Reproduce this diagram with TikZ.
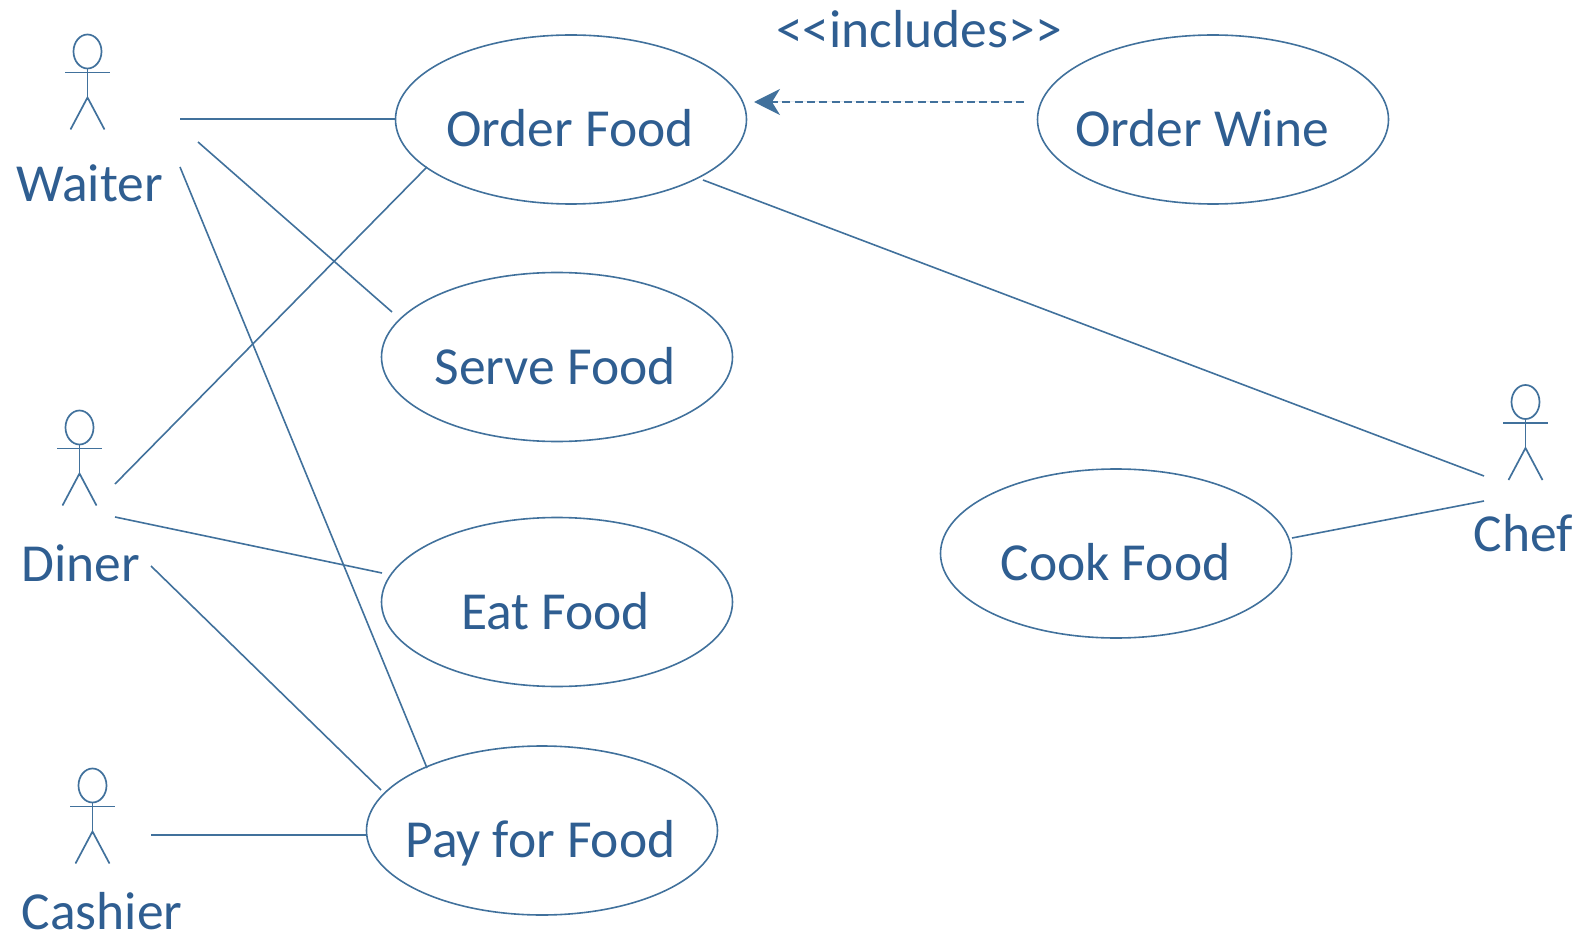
\documentclass[tikz,border=0pt]{standalone}
\usepackage{fontspec}
\setmainfont{Carlito}
\usetikzlibrary{arrows.meta,shapes.geometric}
\definecolor{ink}{HTML}{41719C}
\definecolor{txt}{HTML}{2F5E91}
\tikzset{
 x=1pt,y=-1pt,
 usecase/.style={ellipse,draw=ink,line width=1.6pt,minimum width=351pt,minimum height=169pt,inner sep=0pt},
 lbl/.style={text=txt,font=\fontsize{53.5}{58}\selectfont,inner sep=0pt,anchor=base},
 assoc/.style={draw=ink,line width=1.6pt},
 actorline/.style={draw=ink,line width=1.7pt}
}
\newcommand{\actor}[2]{% #1 x of centre, #2 y of head centre
 \draw[actorline] (#1,#2) ellipse (14pt and 17pt);
 \draw[actorline] (#1,#2+17) -- (#1,#2+46);
 \draw[actorline] (#1-22.5,#2+21) -- (#1+22.5,#2+21);
 \draw[actorline] (#1-17,#2+78) -- (#1,#2+46) -- (#1+17,#2+78);
}
\begin{document}
\begin{tikzpicture}
\useasboundingbox (0,0) rectangle (1593,933);
\node[usecase] (order) at (571,119.5) {};
\node[usecase] (serve) at (557,357) {};
\node[usecase] (eat) at (557,602) {};
\node[usecase] (pay) at (542,830.5) {};
\node[usecase] (wine) at (1213,119.5) {};
\node[usecase] (cook) at (1116,553.5) {};
\node[lbl] at (570,147) {Order Food};
\node[lbl] at (555,384) {Serve Food};
\node[lbl] at (555.5,629) {Eat Food};
\node[lbl] at (540.5,857) {Pay for Food};
\node[lbl] at (1202,147) {Order Wine};
\node[lbl] at (1115.5,580) {Cook Food};
\node[lbl] at (919,47.5) {<{}<includes>{}>};
\node[lbl] at (89.5,202) {Waiter};
\node[lbl] at (81,581) {Diner};
\node[lbl] at (102,929.5) {Cashier};
\node[lbl] at (1523.5,551) {Chef};
\actor{87.5}{51.5}
\actor{79.5}{427.5}
\actor{92.5}{785.5}
\actor{1525.5}{402}
\coordinate (w1) at (180,119);
\coordinate (w2) at (198,142);
\coordinate (w3) at (180,167);
\coordinate (d1) at (115,484);
\coordinate (d2) at (115,517);
\coordinate (d3) at (151,566);
\coordinate (c1) at (151,835);
\coordinate (h1) at (1484,476);
\coordinate (h2) at (1484,501);
\coordinate (s2) at (392,312);
\coordinate (p1) at (427,768);
\coordinate (o2) at (427,167);
\coordinate (e1) at (382,573);
\coordinate (p2) at (381,790);
\coordinate (o3) at (703,180);
\coordinate (k1) at (1292,538);
\coordinate (a1) at (1024,102);
\coordinate (a2) at (754,102);
\draw[assoc] (w1) -- (order.west |- w1);
\draw[assoc] (w2) -- (s2);
\draw[assoc] (w3) -- (p1);
\draw[assoc] (d1) -- (o2);
\draw[assoc] (d2) -- (e1);
\draw[assoc] (d3) -- (p2);
\draw[assoc] (c1) -- (pay.west |- c1);
\draw[assoc] (o3) -- (h1);
\draw[assoc] (k1) -- (h2);
\draw[draw=ink,fill=ink,line width=1.4pt,dash pattern=on 8pt off 4.3pt,-{Stealth[length=26pt,width=26pt,inset=8pt]}] (a1) -- (a2);
\end{tikzpicture}
\end{document}
